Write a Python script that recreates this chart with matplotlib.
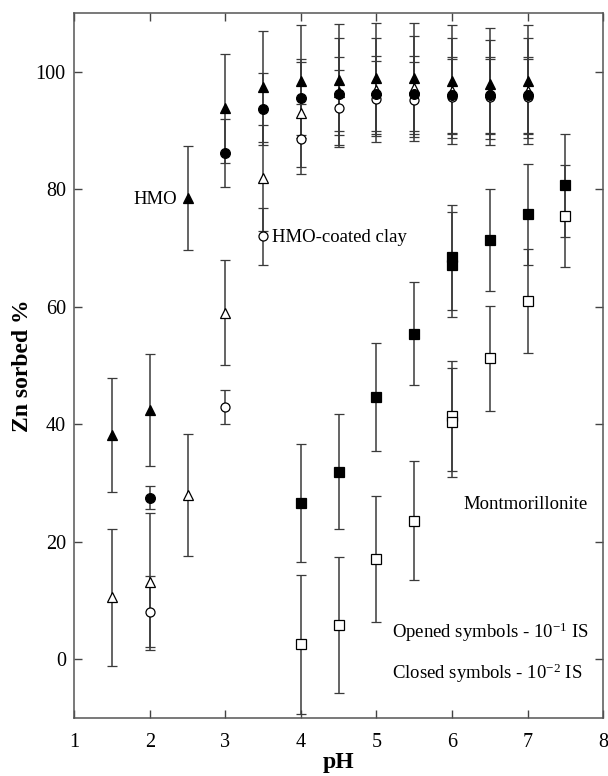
import matplotlib
matplotlib.use('Agg')
import matplotlib.pyplot as plt

plt.rcParams['font.family'] = ['Liberation Serif', 'DejaVu Serif']
plt.rcParams['mathtext.fontset'] = 'custom'
plt.rcParams['mathtext.rm'] = 'Liberation Serif'
plt.rcParams['mathtext.default'] = 'regular'

fsize = 14.5

# HMO, closed triangles (10^-2 IS)
ph_hmo = [1.5, 2, 2.5, 3, 3.5, 4, 4.5, 5, 5.5, 6, 6.5, 7]
hmo_c = [38.1, 42.4, 78.5, 93.8, 97.5, 98.4, 98.7, 98.9, 98.9, 98.4, 98.0, 98.4]
hmo_c_err = [9.7, 9.5, 8.8, 9.3, 9.4, 9.6, 9.5, 9.5, 9.5, 9.6, 9.5, 9.6]
# HMO, open triangles (10^-1 IS)
hmo_o = [10.5, 13.2, 28.0, 59.0, 81.9, 93.0, 96.5, 96.9, 97.2, 96.8, 96.5, 96.8]
hmo_o_err = [11.6, 11.7, 10.4, 9.0, 9.0, 9.2, 9.3, 8.9, 9.0, 9.0, 8.9, 9.0]

# HMO-coated clay, circles
ph_clay = [2, 3, 3.5, 4, 4.5, 5, 5.5, 6, 6.5, 7]
clay_c = [27.5, 86.2, 93.7, 95.5, 96.2, 96.3, 96.3, 96.1, 96.1, 96.1]
clay_c_err = [1.9, 5.8, 6.1, 6.2, 6.3, 6.4, 6.4, 6.5, 6.5, 6.5]
clay_o = [8.1, 43.0, 72.0, 88.6, 93.9, 95.4, 95.3, 95.8, 95.8, 95.8]
clay_o_err = [6.0, 2.9, 4.9, 6.0, 6.4, 6.4, 6.4, 6.4, 6.4, 6.4]

# Montmorillonite, squares
ph_mont = [4, 4.5, 5, 5.5, 6, 6, 6.5, 7, 7.5]
mont_c = [26.6, 31.9, 44.6, 55.4, 68.4, 67.2, 71.4, 75.8, 80.7]
mont_c_err = [10.1, 9.8, 9.2, 8.8, 9.0, 9.0, 8.7, 8.6, 8.8]
mont_o = [2.5, 5.8, 17.1, 23.6, 41.4, 40.3, 51.2, 61.0, 75.4]
mont_o_err = [11.8, 11.6, 10.7, 10.2, 9.4, 9.3, 8.9, 8.8, 8.7]

fig = plt.figure(figsize=(6.08, 7.76), dpi=100)
ax = fig.add_axes([0.122, 0.075, 0.870, 0.908])

ebc = '#3a3a3a'
kw = dict(linestyle='none', ecolor=ebc, elinewidth=1.1, capsize=3.5, capthick=1.0,
          markeredgecolor='k', markeredgewidth=0.9)

# open symbols first
ax.errorbar(ph_clay, clay_o, yerr=clay_o_err, marker='o', ms=6.5, mfc='white', **kw)
ax.errorbar(ph_hmo, hmo_o, yerr=hmo_o_err, marker='^', ms=7, mfc='white', **kw)
ax.errorbar(ph_mont, mont_o, yerr=mont_o_err, marker='s', ms=6.5, mfc='white', **kw)
# closed symbols
ax.errorbar(ph_clay, clay_c, yerr=clay_c_err, marker='o', ms=7, mfc='k', **kw)
ax.errorbar(ph_hmo, hmo_c, yerr=hmo_c_err, marker='^', ms=7.5, mfc='k', **kw)
ax.errorbar(ph_mont, mont_c, yerr=mont_c_err, marker='s', ms=7, mfc='k', **kw)

tsize = 13.5
ax.text(2.07, 78.2, 'HMO', fontsize=tsize, ha='center', va='center')
ax.text(3.62, 71.8, 'HMO-coated clay', fontsize=tsize, ha='left', va='center')
ax.text(6.15, 26.4, 'Montmorillonite', fontsize=tsize, ha='left', va='center')
ax.text(5.2, 4.6, 'Opened symbols - 10$^{-1}$ IS', fontsize=tsize, ha='left', va='center')
ax.text(5.2, -2.4, 'Closed symbols - 10$^{-2}$ IS', fontsize=tsize, ha='left', va='center')

ax.set_xlim(1, 8)
ax.set_ylim(-10, 110)
ax.set_xticks(range(1, 9))
ax.set_yticks(range(0, 101, 20))
ax.tick_params(direction='in', length=6, width=1, top=True, right=True,
               labelsize=fsize, color='#444444')
ax.tick_params(axis='x', pad=11)
ax.tick_params(axis='y', pad=6)
for s in ax.spines.values():
    s.set_color('#555555')
    s.set_linewidth(1.1)

ax.set_xlabel('pH', fontsize=17, fontweight='bold', labelpad=0)
ax.set_ylabel('Zn sorbed %', fontsize=17, fontweight='bold', labelpad=2)

plt.savefig('out.png', dpi=100)
